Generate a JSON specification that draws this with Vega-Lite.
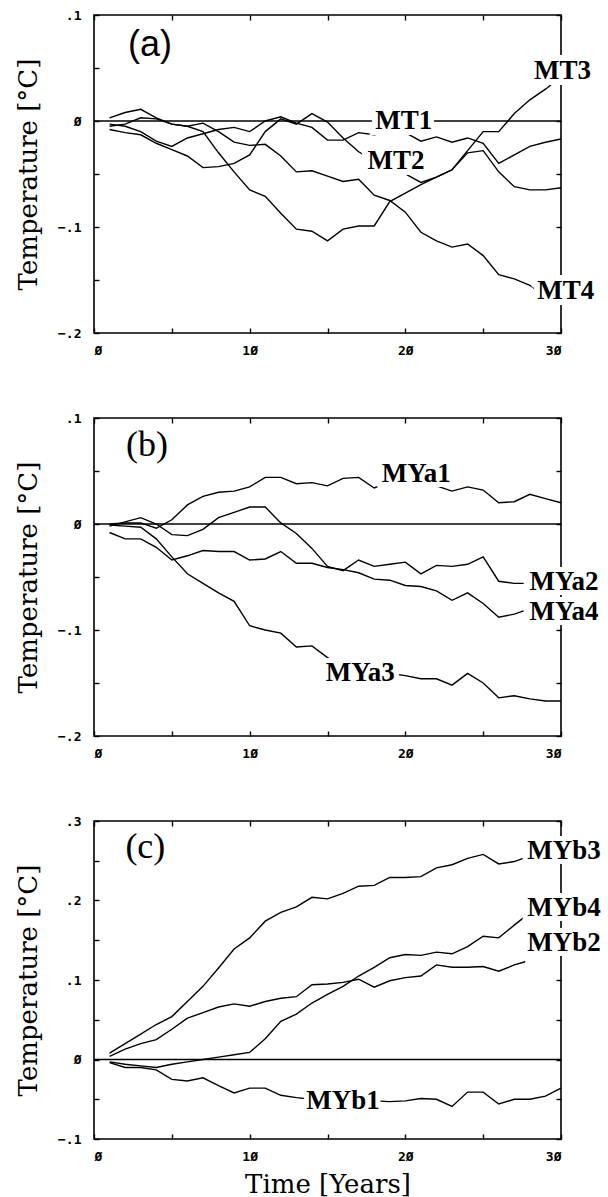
{
  "$schema": "https://vega.github.io/schema/vega-lite/v6.json",
  "padding": {"left": 14, "top": 8, "right": 0, "bottom": 0},
  "bounds": "flush",
  "spacing": 85,
  "config": {
    "view": {"stroke": "black", "strokeWidth": 1.6},
    "axis": {
      "domain": false, "grid": false, "offset": -5,
      "ticks": true, "tickColor": "black", "tickSize": 5, "tickWidth": 1.4,
      "labelFont": "DejaVu Sans Mono", "labelFontWeight": "bold", "labelFontSize": 13, "labelColor": "black",
      "titleFont": "DejaVu Serif", "titleFontWeight": "normal", "titleFontSize": 26, "titleColor": "black"
    }
  },
  "datasets": {
    "zero": [{"z": 0}],
    "series": [
      {"p":"a","s":"MT1","t":1,"v":-0.003},{"p":"a","s":"MT1","t":2,"v":-0.005},{"p":"a","s":"MT1","t":3,"v":-0.010},{"p":"a","s":"MT1","t":4,"v":-0.019},{"p":"a","s":"MT1","t":5,"v":-0.024},{"p":"a","s":"MT1","t":6,"v":-0.016},{"p":"a","s":"MT1","t":7,"v":-0.012},{"p":"a","s":"MT1","t":8,"v":-0.008},{"p":"a","s":"MT1","t":9,"v":-0.006},{"p":"a","s":"MT1","t":10,"v":-0.010},{"p":"a","s":"MT1","t":11,"v":0.000},{"p":"a","s":"MT1","t":12,"v":0.004},{"p":"a","s":"MT1","t":13,"v":-0.002},{"p":"a","s":"MT1","t":14,"v":-0.006},{"p":"a","s":"MT1","t":15,"v":-0.018},{"p":"a","s":"MT1","t":16,"v":-0.018},{"p":"a","s":"MT1","t":17,"v":-0.011},{"p":"a","s":"MT1","t":18,"v":-0.013},{"p":"a","s":"MT1","t":19,"v":-0.010},{"p":"a","s":"MT1","t":20,"v":-0.011},{"p":"a","s":"MT1","t":21,"v":-0.019},{"p":"a","s":"MT1","t":22,"v":-0.015},{"p":"a","s":"MT1","t":23,"v":-0.020},{"p":"a","s":"MT1","t":24,"v":-0.016},{"p":"a","s":"MT1","t":25,"v":-0.021},{"p":"a","s":"MT1","t":26,"v":-0.040},{"p":"a","s":"MT1","t":27,"v":-0.032},{"p":"a","s":"MT1","t":28,"v":-0.024},{"p":"a","s":"MT1","t":29,"v":-0.020},{"p":"a","s":"MT1","t":30,"v":-0.017},
      {"p":"a","s":"MT2","t":1,"v":-0.008},{"p":"a","s":"MT2","t":2,"v":-0.011},{"p":"a","s":"MT2","t":3,"v":-0.013},{"p":"a","s":"MT2","t":4,"v":-0.021},{"p":"a","s":"MT2","t":5,"v":-0.027},{"p":"a","s":"MT2","t":6,"v":-0.033},{"p":"a","s":"MT2","t":7,"v":-0.044},{"p":"a","s":"MT2","t":8,"v":-0.043},{"p":"a","s":"MT2","t":9,"v":-0.040},{"p":"a","s":"MT2","t":10,"v":-0.032},{"p":"a","s":"MT2","t":11,"v":-0.010},{"p":"a","s":"MT2","t":12,"v":0.002},{"p":"a","s":"MT2","t":13,"v":-0.003},{"p":"a","s":"MT2","t":14,"v":0.007},{"p":"a","s":"MT2","t":15,"v":-0.001},{"p":"a","s":"MT2","t":16,"v":-0.016},{"p":"a","s":"MT2","t":17,"v":-0.029},{"p":"a","s":"MT2","t":18,"v":-0.038},{"p":"a","s":"MT2","t":19,"v":-0.045},{"p":"a","s":"MT2","t":20,"v":-0.050},{"p":"a","s":"MT2","t":21,"v":-0.058},{"p":"a","s":"MT2","t":22,"v":-0.053},{"p":"a","s":"MT2","t":23,"v":-0.046},{"p":"a","s":"MT2","t":24,"v":-0.030},{"p":"a","s":"MT2","t":25,"v":-0.028},{"p":"a","s":"MT2","t":26,"v":-0.048},{"p":"a","s":"MT2","t":27,"v":-0.062},{"p":"a","s":"MT2","t":28,"v":-0.065},{"p":"a","s":"MT2","t":29,"v":-0.065},{"p":"a","s":"MT2","t":30,"v":-0.063},
      {"p":"a","s":"MT3","t":1,"v":0.003},{"p":"a","s":"MT3","t":2,"v":0.008},{"p":"a","s":"MT3","t":3,"v":0.011},{"p":"a","s":"MT3","t":4,"v":0.003},{"p":"a","s":"MT3","t":5,"v":-0.003},{"p":"a","s":"MT3","t":6,"v":-0.005},{"p":"a","s":"MT3","t":7,"v":-0.010},{"p":"a","s":"MT3","t":8,"v":-0.030},{"p":"a","s":"MT3","t":9,"v":-0.048},{"p":"a","s":"MT3","t":10,"v":-0.065},{"p":"a","s":"MT3","t":11,"v":-0.071},{"p":"a","s":"MT3","t":12,"v":-0.087},{"p":"a","s":"MT3","t":13,"v":-0.102},{"p":"a","s":"MT3","t":14,"v":-0.104},{"p":"a","s":"MT3","t":15,"v":-0.113},{"p":"a","s":"MT3","t":16,"v":-0.102},{"p":"a","s":"MT3","t":17,"v":-0.099},{"p":"a","s":"MT3","t":18,"v":-0.099},{"p":"a","s":"MT3","t":19,"v":-0.076},{"p":"a","s":"MT3","t":20,"v":-0.068},{"p":"a","s":"MT3","t":21,"v":-0.060},{"p":"a","s":"MT3","t":22,"v":-0.053},{"p":"a","s":"MT3","t":23,"v":-0.046},{"p":"a","s":"MT3","t":24,"v":-0.028},{"p":"a","s":"MT3","t":25,"v":-0.010},{"p":"a","s":"MT3","t":26,"v":-0.010},{"p":"a","s":"MT3","t":27,"v":0.007},{"p":"a","s":"MT3","t":28,"v":0.020},{"p":"a","s":"MT3","t":29,"v":0.030},{"p":"a","s":"MT3","t":29.6,"v":0.037},
      {"p":"a","s":"MT4","t":1,"v":-0.005},{"p":"a","s":"MT4","t":2,"v":-0.003},{"p":"a","s":"MT4","t":3,"v":0.003},{"p":"a","s":"MT4","t":4,"v":0.002},{"p":"a","s":"MT4","t":5,"v":-0.003},{"p":"a","s":"MT4","t":6,"v":-0.005},{"p":"a","s":"MT4","t":7,"v":-0.002},{"p":"a","s":"MT4","t":8,"v":-0.010},{"p":"a","s":"MT4","t":9,"v":-0.020},{"p":"a","s":"MT4","t":10,"v":-0.023},{"p":"a","s":"MT4","t":11,"v":-0.022},{"p":"a","s":"MT4","t":12,"v":-0.033},{"p":"a","s":"MT4","t":13,"v":-0.048},{"p":"a","s":"MT4","t":14,"v":-0.047},{"p":"a","s":"MT4","t":15,"v":-0.052},{"p":"a","s":"MT4","t":16,"v":-0.057},{"p":"a","s":"MT4","t":17,"v":-0.055},{"p":"a","s":"MT4","t":18,"v":-0.070},{"p":"a","s":"MT4","t":19,"v":-0.075},{"p":"a","s":"MT4","t":20,"v":-0.086},{"p":"a","s":"MT4","t":21,"v":-0.105},{"p":"a","s":"MT4","t":22,"v":-0.113},{"p":"a","s":"MT4","t":23,"v":-0.119},{"p":"a","s":"MT4","t":24,"v":-0.116},{"p":"a","s":"MT4","t":25,"v":-0.127},{"p":"a","s":"MT4","t":26,"v":-0.145},{"p":"a","s":"MT4","t":27,"v":-0.149},{"p":"a","s":"MT4","t":28,"v":-0.155},{"p":"a","s":"MT4","t":28.5,"v":-0.160},
      {"p":"b","s":"MYa1","t":1,"v":0.000},{"p":"b","s":"MYa1","t":2,"v":0.001},{"p":"b","s":"MYa1","t":3,"v":0.001},{"p":"b","s":"MYa1","t":4,"v":-0.004},{"p":"b","s":"MYa1","t":5,"v":0.004},{"p":"b","s":"MYa1","t":6,"v":0.018},{"p":"b","s":"MYa1","t":7,"v":0.026},{"p":"b","s":"MYa1","t":8,"v":0.030},{"p":"b","s":"MYa1","t":9,"v":0.031},{"p":"b","s":"MYa1","t":10,"v":0.035},{"p":"b","s":"MYa1","t":11,"v":0.044},{"p":"b","s":"MYa1","t":12,"v":0.044},{"p":"b","s":"MYa1","t":13,"v":0.038},{"p":"b","s":"MYa1","t":14,"v":0.039},{"p":"b","s":"MYa1","t":15,"v":0.036},{"p":"b","s":"MYa1","t":16,"v":0.043},{"p":"b","s":"MYa1","t":17,"v":0.044},{"p":"b","s":"MYa1","t":18,"v":0.034},{"p":"b","s":"MYa1","t":19,"v":0.040},{"p":"b","s":"MYa1","t":20,"v":0.042},{"p":"b","s":"MYa1","t":21,"v":0.040},{"p":"b","s":"MYa1","t":22,"v":0.036},{"p":"b","s":"MYa1","t":23,"v":0.031},{"p":"b","s":"MYa1","t":24,"v":0.035},{"p":"b","s":"MYa1","t":25,"v":0.032},{"p":"b","s":"MYa1","t":26,"v":0.020},{"p":"b","s":"MYa1","t":27,"v":0.021},{"p":"b","s":"MYa1","t":28,"v":0.028},{"p":"b","s":"MYa1","t":29,"v":0.024},{"p":"b","s":"MYa1","t":30,"v":0.020},
      {"p":"b","s":"MYa2","t":1,"v":-0.002},{"p":"b","s":"MYa2","t":2,"v":0.002},{"p":"b","s":"MYa2","t":3,"v":0.006},{"p":"b","s":"MYa2","t":4,"v":0.000},{"p":"b","s":"MYa2","t":5,"v":-0.010},{"p":"b","s":"MYa2","t":6,"v":-0.011},{"p":"b","s":"MYa2","t":7,"v":-0.005},{"p":"b","s":"MYa2","t":8,"v":0.006},{"p":"b","s":"MYa2","t":9,"v":0.011},{"p":"b","s":"MYa2","t":10,"v":0.016},{"p":"b","s":"MYa2","t":11,"v":0.016},{"p":"b","s":"MYa2","t":12,"v":0.001},{"p":"b","s":"MYa2","t":13,"v":-0.009},{"p":"b","s":"MYa2","t":14,"v":-0.023},{"p":"b","s":"MYa2","t":15,"v":-0.040},{"p":"b","s":"MYa2","t":16,"v":-0.044},{"p":"b","s":"MYa2","t":17,"v":-0.034},{"p":"b","s":"MYa2","t":18,"v":-0.040},{"p":"b","s":"MYa2","t":19,"v":-0.038},{"p":"b","s":"MYa2","t":20,"v":-0.036},{"p":"b","s":"MYa2","t":21,"v":-0.047},{"p":"b","s":"MYa2","t":22,"v":-0.039},{"p":"b","s":"MYa2","t":23,"v":-0.040},{"p":"b","s":"MYa2","t":24,"v":-0.038},{"p":"b","s":"MYa2","t":25,"v":-0.031},{"p":"b","s":"MYa2","t":26,"v":-0.054},{"p":"b","s":"MYa2","t":27,"v":-0.056},{"p":"b","s":"MYa2","t":27.6,"v":-0.056},
      {"p":"b","s":"MYa3","t":1,"v":-0.001},{"p":"b","s":"MYa3","t":2,"v":-0.002},{"p":"b","s":"MYa3","t":3,"v":-0.003},{"p":"b","s":"MYa3","t":4,"v":-0.014},{"p":"b","s":"MYa3","t":5,"v":-0.031},{"p":"b","s":"MYa3","t":6,"v":-0.047},{"p":"b","s":"MYa3","t":7,"v":-0.056},{"p":"b","s":"MYa3","t":8,"v":-0.065},{"p":"b","s":"MYa3","t":9,"v":-0.073},{"p":"b","s":"MYa3","t":10,"v":-0.096},{"p":"b","s":"MYa3","t":11,"v":-0.100},{"p":"b","s":"MYa3","t":12,"v":-0.103},{"p":"b","s":"MYa3","t":13,"v":-0.116},{"p":"b","s":"MYa3","t":14,"v":-0.115},{"p":"b","s":"MYa3","t":15,"v":-0.126},{"p":"b","s":"MYa3","t":16,"v":-0.133},{"p":"b","s":"MYa3","t":17,"v":-0.138},{"p":"b","s":"MYa3","t":18,"v":-0.140},{"p":"b","s":"MYa3","t":19,"v":-0.141},{"p":"b","s":"MYa3","t":20,"v":-0.143},{"p":"b","s":"MYa3","t":21,"v":-0.146},{"p":"b","s":"MYa3","t":22,"v":-0.146},{"p":"b","s":"MYa3","t":23,"v":-0.152},{"p":"b","s":"MYa3","t":24,"v":-0.141},{"p":"b","s":"MYa3","t":25,"v":-0.150},{"p":"b","s":"MYa3","t":26,"v":-0.164},{"p":"b","s":"MYa3","t":27,"v":-0.162},{"p":"b","s":"MYa3","t":28,"v":-0.165},{"p":"b","s":"MYa3","t":29,"v":-0.167},{"p":"b","s":"MYa3","t":30,"v":-0.167},
      {"p":"b","s":"MYa4","t":1,"v":-0.008},{"p":"b","s":"MYa4","t":2,"v":-0.014},{"p":"b","s":"MYa4","t":3,"v":-0.014},{"p":"b","s":"MYa4","t":4,"v":-0.022},{"p":"b","s":"MYa4","t":5,"v":-0.034},{"p":"b","s":"MYa4","t":6,"v":-0.030},{"p":"b","s":"MYa4","t":7,"v":-0.025},{"p":"b","s":"MYa4","t":8,"v":-0.026},{"p":"b","s":"MYa4","t":9,"v":-0.026},{"p":"b","s":"MYa4","t":10,"v":-0.034},{"p":"b","s":"MYa4","t":11,"v":-0.033},{"p":"b","s":"MYa4","t":12,"v":-0.026},{"p":"b","s":"MYa4","t":13,"v":-0.037},{"p":"b","s":"MYa4","t":14,"v":-0.037},{"p":"b","s":"MYa4","t":15,"v":-0.041},{"p":"b","s":"MYa4","t":16,"v":-0.043},{"p":"b","s":"MYa4","t":17,"v":-0.046},{"p":"b","s":"MYa4","t":18,"v":-0.052},{"p":"b","s":"MYa4","t":19,"v":-0.053},{"p":"b","s":"MYa4","t":20,"v":-0.058},{"p":"b","s":"MYa4","t":21,"v":-0.059},{"p":"b","s":"MYa4","t":22,"v":-0.063},{"p":"b","s":"MYa4","t":23,"v":-0.072},{"p":"b","s":"MYa4","t":24,"v":-0.065},{"p":"b","s":"MYa4","t":25,"v":-0.075},{"p":"b","s":"MYa4","t":26,"v":-0.088},{"p":"b","s":"MYa4","t":27,"v":-0.085},{"p":"b","s":"MYa4","t":27.6,"v":-0.082},
      {"p":"c","s":"MYb1","t":1,"v":-0.004},{"p":"c","s":"MYb1","t":2,"v":-0.010},{"p":"c","s":"MYb1","t":3,"v":-0.010},{"p":"c","s":"MYb1","t":4,"v":-0.013},{"p":"c","s":"MYb1","t":5,"v":-0.025},{"p":"c","s":"MYb1","t":6,"v":-0.027},{"p":"c","s":"MYb1","t":7,"v":-0.023},{"p":"c","s":"MYb1","t":8,"v":-0.033},{"p":"c","s":"MYb1","t":9,"v":-0.042},{"p":"c","s":"MYb1","t":10,"v":-0.036},{"p":"c","s":"MYb1","t":11,"v":-0.036},{"p":"c","s":"MYb1","t":12,"v":-0.045},{"p":"c","s":"MYb1","t":13,"v":-0.048},{"p":"c","s":"MYb1","t":14,"v":-0.050},{"p":"c","s":"MYb1","t":15,"v":-0.050},{"p":"c","s":"MYb1","t":16,"v":-0.051},{"p":"c","s":"MYb1","t":17,"v":-0.052},{"p":"c","s":"MYb1","t":18,"v":-0.052},{"p":"c","s":"MYb1","t":19,"v":-0.053},{"p":"c","s":"MYb1","t":20,"v":-0.052},{"p":"c","s":"MYb1","t":21,"v":-0.049},{"p":"c","s":"MYb1","t":22,"v":-0.050},{"p":"c","s":"MYb1","t":23,"v":-0.059},{"p":"c","s":"MYb1","t":24,"v":-0.041},{"p":"c","s":"MYb1","t":25,"v":-0.041},{"p":"c","s":"MYb1","t":26,"v":-0.056},{"p":"c","s":"MYb1","t":27,"v":-0.050},{"p":"c","s":"MYb1","t":28,"v":-0.050},{"p":"c","s":"MYb1","t":29,"v":-0.046},{"p":"c","s":"MYb1","t":30,"v":-0.036},
      {"p":"c","s":"MYb2","t":1,"v":0.004},{"p":"c","s":"MYb2","t":2,"v":0.013},{"p":"c","s":"MYb2","t":3,"v":0.020},{"p":"c","s":"MYb2","t":4,"v":0.025},{"p":"c","s":"MYb2","t":5,"v":0.038},{"p":"c","s":"MYb2","t":6,"v":0.052},{"p":"c","s":"MYb2","t":7,"v":0.059},{"p":"c","s":"MYb2","t":8,"v":0.066},{"p":"c","s":"MYb2","t":9,"v":0.070},{"p":"c","s":"MYb2","t":10,"v":0.067},{"p":"c","s":"MYb2","t":11,"v":0.073},{"p":"c","s":"MYb2","t":12,"v":0.077},{"p":"c","s":"MYb2","t":13,"v":0.079},{"p":"c","s":"MYb2","t":14,"v":0.094},{"p":"c","s":"MYb2","t":15,"v":0.095},{"p":"c","s":"MYb2","t":16,"v":0.097},{"p":"c","s":"MYb2","t":17,"v":0.101},{"p":"c","s":"MYb2","t":18,"v":0.091},{"p":"c","s":"MYb2","t":19,"v":0.099},{"p":"c","s":"MYb2","t":20,"v":0.103},{"p":"c","s":"MYb2","t":21,"v":0.105},{"p":"c","s":"MYb2","t":22,"v":0.119},{"p":"c","s":"MYb2","t":23,"v":0.116},{"p":"c","s":"MYb2","t":24,"v":0.116},{"p":"c","s":"MYb2","t":25,"v":0.117},{"p":"c","s":"MYb2","t":26,"v":0.111},{"p":"c","s":"MYb2","t":27,"v":0.119},{"p":"c","s":"MYb2","t":27.7,"v":0.123},
      {"p":"c","s":"MYb3","t":1,"v":0.008},{"p":"c","s":"MYb3","t":2,"v":0.020},{"p":"c","s":"MYb3","t":3,"v":0.032},{"p":"c","s":"MYb3","t":4,"v":0.044},{"p":"c","s":"MYb3","t":5,"v":0.054},{"p":"c","s":"MYb3","t":6,"v":0.073},{"p":"c","s":"MYb3","t":7,"v":0.092},{"p":"c","s":"MYb3","t":8,"v":0.115},{"p":"c","s":"MYb3","t":9,"v":0.139},{"p":"c","s":"MYb3","t":10,"v":0.153},{"p":"c","s":"MYb3","t":11,"v":0.174},{"p":"c","s":"MYb3","t":12,"v":0.185},{"p":"c","s":"MYb3","t":13,"v":0.192},{"p":"c","s":"MYb3","t":14,"v":0.204},{"p":"c","s":"MYb3","t":15,"v":0.202},{"p":"c","s":"MYb3","t":16,"v":0.209},{"p":"c","s":"MYb3","t":17,"v":0.218},{"p":"c","s":"MYb3","t":18,"v":0.219},{"p":"c","s":"MYb3","t":19,"v":0.229},{"p":"c","s":"MYb3","t":20,"v":0.229},{"p":"c","s":"MYb3","t":21,"v":0.230},{"p":"c","s":"MYb3","t":22,"v":0.241},{"p":"c","s":"MYb3","t":23,"v":0.245},{"p":"c","s":"MYb3","t":24,"v":0.253},{"p":"c","s":"MYb3","t":25,"v":0.258},{"p":"c","s":"MYb3","t":26,"v":0.246},{"p":"c","s":"MYb3","t":27,"v":0.249},{"p":"c","s":"MYb3","t":27.7,"v":0.254},
      {"p":"c","s":"MYb4","t":1,"v":-0.003},{"p":"c","s":"MYb4","t":2,"v":-0.006},{"p":"c","s":"MYb4","t":3,"v":-0.008},{"p":"c","s":"MYb4","t":4,"v":-0.010},{"p":"c","s":"MYb4","t":5,"v":-0.006},{"p":"c","s":"MYb4","t":6,"v":-0.003},{"p":"c","s":"MYb4","t":7,"v":0.000},{"p":"c","s":"MYb4","t":8,"v":0.003},{"p":"c","s":"MYb4","t":9,"v":0.006},{"p":"c","s":"MYb4","t":10,"v":0.009},{"p":"c","s":"MYb4","t":11,"v":0.026},{"p":"c","s":"MYb4","t":12,"v":0.048},{"p":"c","s":"MYb4","t":13,"v":0.057},{"p":"c","s":"MYb4","t":14,"v":0.071},{"p":"c","s":"MYb4","t":15,"v":0.082},{"p":"c","s":"MYb4","t":16,"v":0.092},{"p":"c","s":"MYb4","t":17,"v":0.105},{"p":"c","s":"MYb4","t":18,"v":0.116},{"p":"c","s":"MYb4","t":19,"v":0.128},{"p":"c","s":"MYb4","t":20,"v":0.132},{"p":"c","s":"MYb4","t":21,"v":0.131},{"p":"c","s":"MYb4","t":22,"v":0.135},{"p":"c","s":"MYb4","t":23,"v":0.133},{"p":"c","s":"MYb4","t":24,"v":0.142},{"p":"c","s":"MYb4","t":25,"v":0.155},{"p":"c","s":"MYb4","t":26,"v":0.153},{"p":"c","s":"MYb4","t":27,"v":0.169},{"p":"c","s":"MYb4","t":27.7,"v":0.180}
    ],
    "labels": [
      {"p":"a","txt":"MT1","t":19.9,"v":0.0},
      {"p":"a","txt":"MT2","t":19.4,"v":-0.038},
      {"p":"a","txt":"MT3","t":30.1,"v":0.047},
      {"p":"a","txt":"MT4","t":30.3,"v":-0.160},
      {"p":"b","txt":"MYa1","t":20.7,"v":0.047},
      {"p":"b","txt":"MYa2","t":30.2,"v":-0.055},
      {"p":"b","txt":"MYa4","t":30.2,"v":-0.083},
      {"p":"b","txt":"MYa3","t":17.1,"v":-0.141},
      {"p":"c","txt":"MYb3","t":30.2,"v":0.262},
      {"p":"c","txt":"MYb4","t":30.2,"v":0.191},
      {"p":"c","txt":"MYb2","t":30.2,"v":0.146},
      {"p":"c","txt":"MYb1","t":16.0,"v":-0.052}
    ],
    "panels": [
      {"p":"a","txt":"(a)","t":3.6,"v":0.072},
      {"p":"b","txt":"(b)","t":3.4,"v":0.075},
      {"p":"c","txt":"(c)","t":3.3,"v":0.267}
    ]
  },
  "vconcat": [
    {
      "width": 467, "height": 318,
      "layer": [
        {"data": {"name": "zero"}, "mark": {"type": "rule", "color": "black", "strokeWidth": 1.5},
         "encoding": {"y": {"field": "z", "type": "quantitative", "scale": {"domain": [-0.2, 0.1], "nice": false, "zero": false},
           "axis": {"orient": "right", "labels": false, "title": null, "values": [-0.2,-0.15,-0.1,-0.05,0,0.05,0.1]}}}},
        {"data": {"name": "series"}, "transform": [{"filter": "datum.p == 'a'"}],
         "mark": {"type": "line", "color": "black", "strokeWidth": 1.4},
         "encoding": {
           "x": {"field": "t", "type": "quantitative", "scale": {"domain": [0, 30], "nice": false, "zero": false},
             "axis": {"orient": "bottom", "title": null, "values": [0,5,10,15,20,25,30], "labelExpr": "datum.value % 10 == 0 ? replace(toString(datum.value), '0', 'Ø') : ''", "labelPadding": 11}},
           "y": {"field": "v", "type": "quantitative",
             "axis": {"orient": "left", "title": "Temperature [°C]", "titlePadding": 16, "values": [-0.2,-0.15,-0.1,-0.05,0,0.05,0.1], "labelExpr": "abs(datum.value*10 - round(datum.value*10)) > 0.01 ? '' : (datum.value == 0 ? 'Ø' : replace(format(datum.value, '.1f'), '0.', '.'))", "labelPadding": 13}},
           "detail": {"field": "s"}}},
        {"data": {"name": "labels"}, "transform": [{"filter": "datum.p == 'a'"}],
         "mark": {"type": "text", "font": "Liberation Serif", "fontWeight": "bold", "fontSize": 27, "fill": "white", "stroke": "white", "strokeWidth": 12},
         "encoding": {"x": {"field": "t", "type": "quantitative", "axis": {"orient": "top", "labels": false, "title": null, "values": [0,5,10,15,20,25,30]}},
           "y": {"field": "v", "type": "quantitative", "axis": null}, "text": {"field": "txt"}}},
        {"data": {"name": "labels"}, "transform": [{"filter": "datum.p == 'a'"}],
         "mark": {"type": "text", "font": "Liberation Serif", "fontWeight": "bold", "fontSize": 27, "color": "black"},
         "encoding": {"x": {"field": "t", "type": "quantitative", "axis": null},
           "y": {"field": "v", "type": "quantitative", "axis": null}, "text": {"field": "txt"}}},
        {"data": {"name": "panels"}, "transform": [{"filter": "datum.p == 'a'"}],
         "mark": {"type": "text", "font": "Liberation Sans", "fontWeight": 300, "fontSize": 36, "color": "black"},
         "encoding": {"x": {"field": "t", "type": "quantitative", "axis": null},
           "y": {"field": "v", "type": "quantitative", "axis": null}, "text": {"field": "txt"}}}
      ]
    },
    {
      "width": 467, "height": 318,
      "layer": [
        {"data": {"name": "zero"}, "mark": {"type": "rule", "color": "black", "strokeWidth": 1.5},
         "encoding": {"y": {"field": "z", "type": "quantitative", "scale": {"domain": [-0.2, 0.1], "nice": false, "zero": false},
           "axis": {"orient": "right", "labels": false, "title": null, "values": [-0.2,-0.15,-0.1,-0.05,0,0.05,0.1]}}}},
        {"data": {"name": "series"}, "transform": [{"filter": "datum.p == 'b'"}],
         "mark": {"type": "line", "color": "black", "strokeWidth": 1.4},
         "encoding": {
           "x": {"field": "t", "type": "quantitative", "scale": {"domain": [0, 30], "nice": false, "zero": false},
             "axis": {"orient": "bottom", "title": null, "values": [0,5,10,15,20,25,30], "labelExpr": "datum.value % 10 == 0 ? replace(toString(datum.value), '0', 'Ø') : ''", "labelPadding": 11}},
           "y": {"field": "v", "type": "quantitative",
             "axis": {"orient": "left", "title": "Temperature [°C]", "titlePadding": 16, "values": [-0.2,-0.15,-0.1,-0.05,0,0.05,0.1], "labelExpr": "abs(datum.value*10 - round(datum.value*10)) > 0.01 ? '' : (datum.value == 0 ? 'Ø' : replace(format(datum.value, '.1f'), '0.', '.'))", "labelPadding": 13}},
           "detail": {"field": "s"}}},
        {"data": {"name": "labels"}, "transform": [{"filter": "datum.p == 'b'"}],
         "mark": {"type": "text", "font": "Liberation Serif", "fontWeight": "bold", "fontSize": 27, "fill": "white", "stroke": "white", "strokeWidth": 10},
         "encoding": {"x": {"field": "t", "type": "quantitative", "axis": {"orient": "top", "labels": false, "title": null, "values": [0,5,10,15,20,25,30]}},
           "y": {"field": "v", "type": "quantitative", "axis": null}, "text": {"field": "txt"}}},
        {"data": {"name": "labels"}, "transform": [{"filter": "datum.p == 'b'"}],
         "mark": {"type": "text", "font": "Liberation Serif", "fontWeight": "bold", "fontSize": 27, "color": "black"},
         "encoding": {"x": {"field": "t", "type": "quantitative", "axis": null},
           "y": {"field": "v", "type": "quantitative", "axis": null}, "text": {"field": "txt"}}},
        {"data": {"name": "panels"}, "transform": [{"filter": "datum.p == 'b'"}],
         "mark": {"type": "text", "font": "Liberation Serif", "fontSize": 36, "color": "black"},
         "encoding": {"x": {"field": "t", "type": "quantitative", "axis": null},
           "y": {"field": "v", "type": "quantitative", "axis": null}, "text": {"field": "txt"}}}
      ]
    },
    {
      "width": 467, "height": 318,
      "layer": [
        {"data": {"name": "zero"}, "mark": {"type": "rule", "color": "black", "strokeWidth": 1.5},
         "encoding": {"y": {"field": "z", "type": "quantitative", "scale": {"domain": [-0.1, 0.3], "nice": false, "zero": false},
           "axis": {"orient": "right", "labels": false, "title": null, "values": [-0.1,-0.05,0,0.05,0.1,0.15,0.2,0.25,0.3]}}}},
        {"data": {"name": "series"}, "transform": [{"filter": "datum.p == 'c'"}],
         "mark": {"type": "line", "color": "black", "strokeWidth": 1.4},
         "encoding": {
           "x": {"field": "t", "type": "quantitative", "scale": {"domain": [0, 30], "nice": false, "zero": false},
             "axis": {"orient": "bottom", "title": "Time [Years]", "titlePadding": 8, "values": [0,5,10,15,20,25,30], "labelExpr": "datum.value % 10 == 0 ? replace(toString(datum.value), '0', 'Ø') : ''", "labelPadding": 11}},
           "y": {"field": "v", "type": "quantitative",
             "axis": {"orient": "left", "title": "Temperature [°C]", "titlePadding": 16, "values": [-0.1,-0.05,0,0.05,0.1,0.15,0.2,0.25,0.3], "labelExpr": "abs(datum.value*10 - round(datum.value*10)) > 0.01 ? '' : (datum.value == 0 ? 'Ø' : replace(format(datum.value, '.1f'), '0.', '.'))", "labelPadding": 13}},
           "detail": {"field": "s"}}},
        {"data": {"name": "labels"}, "transform": [{"filter": "datum.p == 'c'"}],
         "mark": {"type": "text", "font": "Liberation Serif", "fontWeight": "bold", "fontSize": 27, "fill": "white", "stroke": "white", "strokeWidth": 10},
         "encoding": {"x": {"field": "t", "type": "quantitative", "axis": {"orient": "top", "labels": false, "title": null, "values": [0,5,10,15,20,25,30]}},
           "y": {"field": "v", "type": "quantitative", "axis": null}, "text": {"field": "txt"}}},
        {"data": {"name": "labels"}, "transform": [{"filter": "datum.p == 'c'"}],
         "mark": {"type": "text", "font": "Liberation Serif", "fontWeight": "bold", "fontSize": 27, "color": "black"},
         "encoding": {"x": {"field": "t", "type": "quantitative", "axis": null},
           "y": {"field": "v", "type": "quantitative", "axis": null}, "text": {"field": "txt"}}},
        {"data": {"name": "panels"}, "transform": [{"filter": "datum.p == 'c'"}],
         "mark": {"type": "text", "font": "Liberation Serif", "fontSize": 36, "color": "black"},
         "encoding": {"x": {"field": "t", "type": "quantitative", "axis": null},
           "y": {"field": "v", "type": "quantitative", "axis": null}, "text": {"field": "txt"}}}
      ]
    }
  ]
}
